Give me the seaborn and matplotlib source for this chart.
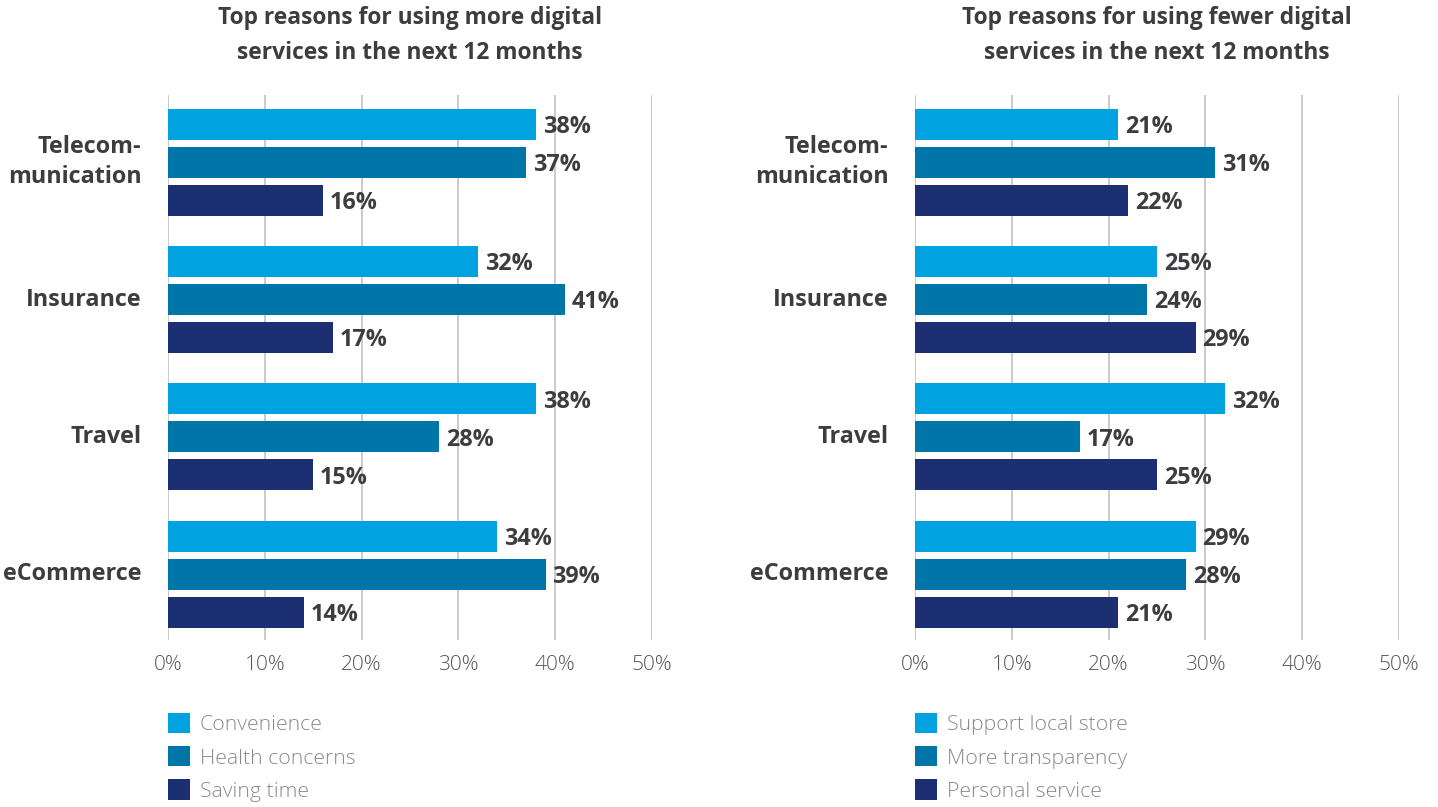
import matplotlib
matplotlib.use("Agg")
import matplotlib.pyplot as plt
import seaborn as sns
import pandas as pd
from matplotlib.patches import Patch

sns.set_style("white")
plt.rcParams["font.family"] = ["Open Sans", "DejaVu Sans"]

categories = ["Telecom-\nmunication", "Insurance", "Travel", "eCommerce"]

more_title = "Top reasons for using more digital\nservices in the next 12 months"
more_series = ["Convenience", "Health concerns", "Saving time"]
convenience = [38, 32, 38, 34]
health_concerns = [37, 41, 28, 39]
saving_time = [16, 17, 15, 14]

fewer_title = "Top reasons for using fewer digital\nservices in the next 12 months"
fewer_series = ["Support local store", "More transparency", "Personal service"]
support_local_store = [21, 25, 32, 29]
more_transparency = [31, 24, 17, 28]
personal_service = [22, 29, 25, 21]

tick_values = [0, 10, 20, 30, 40, 50]
tick_labels = ["0%", "10%", "20%", "30%", "40%", "50%"]

colors = ["#00A3E0", "#0076A8", "#1D2F73"]
TEXT = "#3C3C41"
GRID = "#BDBDBD"


def long_table(series_names, series_values):
    rows = []
    for name, vals in zip(series_names, series_values):
        for cat, v in zip(categories, vals):
            rows.append({"category": cat, "reason": name, "value": v})
    return pd.DataFrame(rows)


def panel(ax, title, series_names, series_values):
    df = long_table(series_names, series_values)
    sns.barplot(data=df, y="category", x="value", hue="reason",
                order=categories, hue_order=series_names,
                palette=colors, orient="h", width=0.83, gap=0.18,
                saturation=1, legend=False, ax=ax, zorder=3, linewidth=0)
    ax.set_xlim(0, 50)
    ax.set_ylim(3.48, -0.49)
    ax.set_xticks(tick_values)
    ax.set_xticklabels(tick_labels, fontsize=15, color="#555559", fontweight="light")
    ax.set_xlabel("")
    ax.set_ylabel("")
    ax.grid(axis="x", color=GRID, linewidth=1.1, zorder=0)
    ax.tick_params(axis="x", length=5, color=GRID, width=1.1, pad=6)
    ax.tick_params(axis="y", length=0, pad=19)
    for lab in ax.get_yticklabels():
        lab.set_fontsize(16.8)
        lab.set_fontweight("bold")
        lab.set_color(TEXT)
        lab.set_horizontalalignment("right")
        lab.set_verticalalignment("center")
        lab.set_linespacing(1.35)
    for s in ax.spines.values():
        s.set_visible(False)
    for container in ax.containers:
        anns = ax.bar_label(container,
                            labels=[f"{int(round(v))}%" for v in container.datavalues],
                            padding=5, fontsize=16.8, fontweight="bold", color=TEXT)
        for a in anns:
            a.xyann = (5, -2)
    ax.set_title(title, fontsize=16.4, fontweight="bold", color=TEXT, pad=26,
                 linespacing=1.62)
    handles = [Patch(facecolor=c, edgecolor="none", label=n)
               for c, n in zip(colors, series_names)]
    leg = ax.legend(handles=handles, loc="upper left", bbox_to_anchor=(0.0, -0.134),
                    frameon=False, fontsize=15.3, handlelength=1.05, handleheight=1.1,
                    handletextpad=0.45, labelspacing=0.5, borderaxespad=0,
                    borderpad=0)
    for t in leg.get_texts():
        t.set_color("#8A8A8E")
        t.set_fontweight("light")


fig = plt.figure(figsize=(14.38, 8.07), dpi=100)
ax1 = fig.add_axes([168 / 1438, 1 - 640 / 807, 484 / 1438, 545 / 807])
ax2 = fig.add_axes([915 / 1438, 1 - 640 / 807, 484 / 1438, 545 / 807])

panel(ax1, more_title, more_series, [convenience, health_concerns, saving_time])
panel(ax2, fewer_title, fewer_series, [support_local_store, more_transparency, personal_service])

fig.savefig("out.png", dpi=100, facecolor="white")
